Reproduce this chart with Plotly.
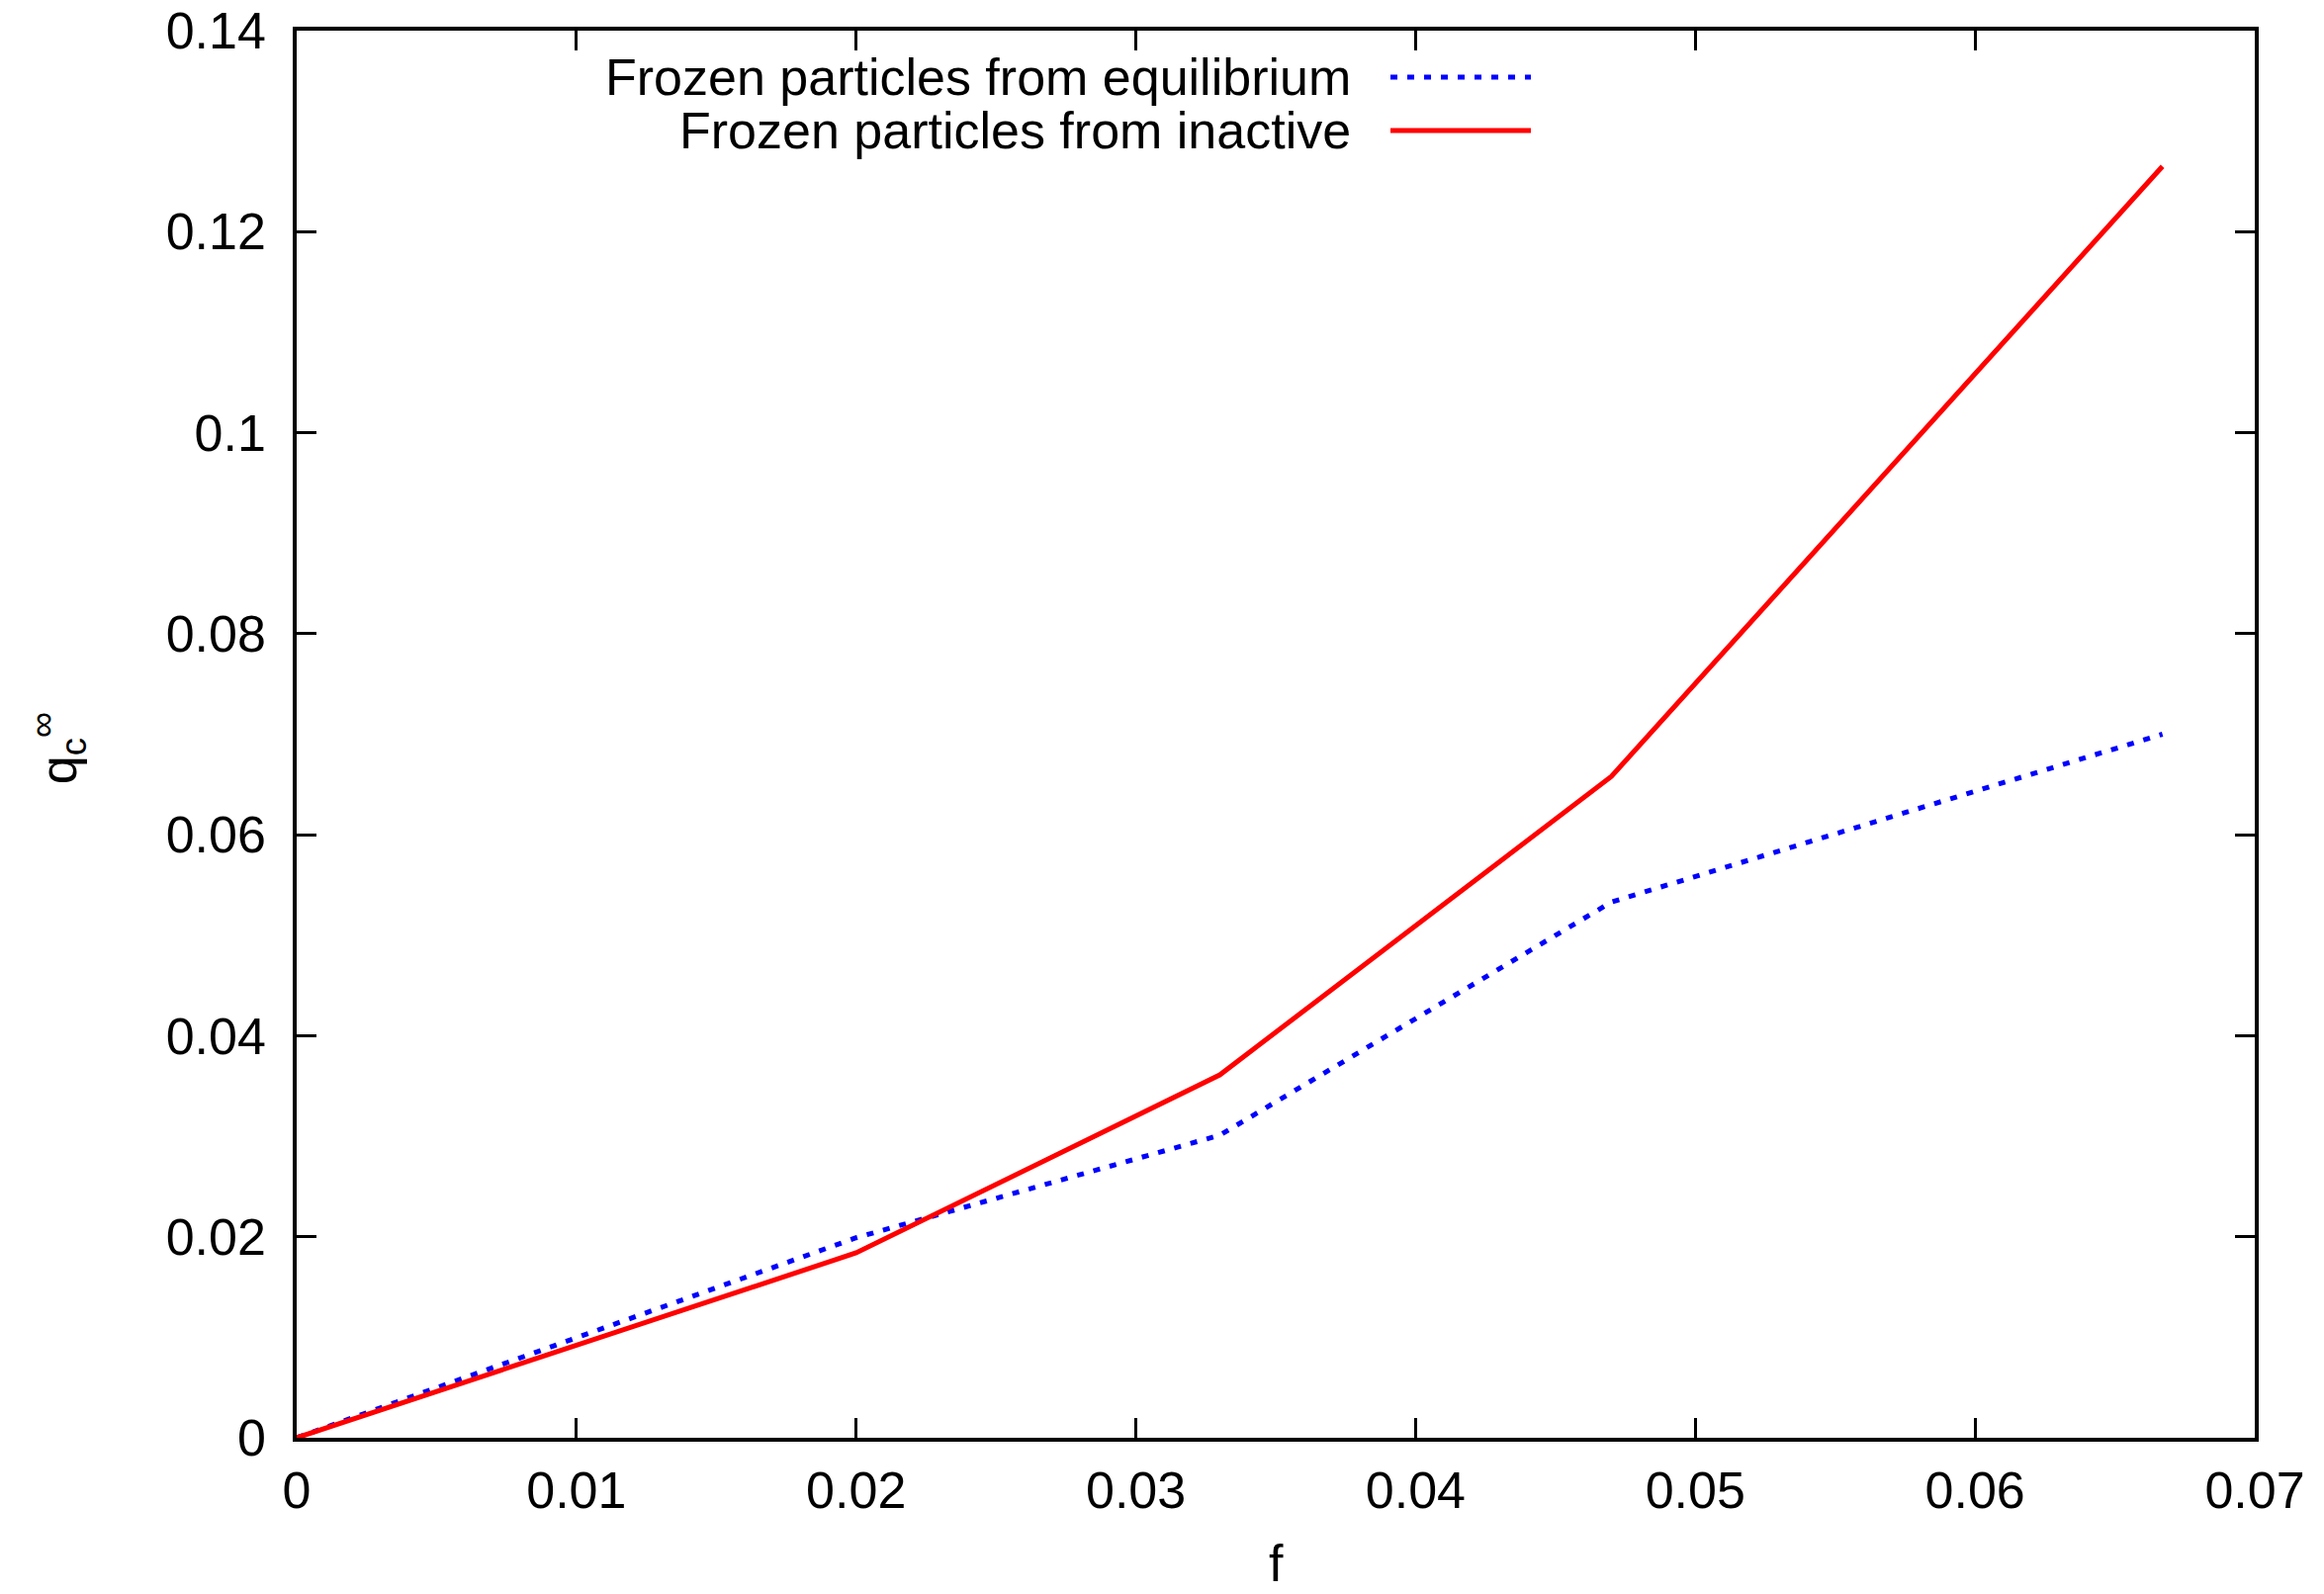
import plotly.graph_objects as go

f_values = [0.0, 0.02, 0.033, 0.047, 0.0667]
q_equilibrium = [0.0, 0.0199, 0.0301, 0.0533, 0.0700]
q_inactive = [0.0, 0.0184, 0.0361, 0.0658, 0.1265]

series_names = ["Frozen particles from equilibrium", "Frozen particles from inactive"]
x_ticks = [0, 0.01, 0.02, 0.03, 0.04, 0.05, 0.06, 0.07]
y_ticks = [0, 0.02, 0.04, 0.06, 0.08, 0.1, 0.12, 0.14]

FONT = "Liberation Sans, Arial, Helvetica, sans-serif"

fig = go.Figure()
fig.add_trace(go.Scatter(x=f_values, y=q_equilibrium, mode="lines",
                         line=dict(color="#0000ff", width=5, dash="7px,10px"),
                         name=series_names[0], showlegend=False))
fig.add_trace(go.Scatter(x=f_values, y=q_inactive, mode="lines",
                         line=dict(color="#ff0000", width=5),
                         name=series_names[1], showlegend=False))

axis_common = dict(showline=True, linecolor="black", linewidth=3.5, mirror="ticks",
                   ticks="inside", ticklen=20, tickwidth=3, tickcolor="black",
                   showgrid=False, zeroline=False, automargin=False,
                   tickfont=dict(family=FONT, size=52, color="black"))

fig.update_xaxes(range=[0, 0.07], tickvals=x_ticks, ticktext=[f"{v:g}" for v in x_ticks],
                 ticklabelstandoff=5, **axis_common)
fig.update_yaxes(range=[0, 0.14], tickvals=y_ticks, ticktext=[f"{v:g}" for v in y_ticks],
                 ticklabelstandoff=17, **axis_common)

annotations = [
    dict(text="f", xref="paper", yref="paper", x=0.5, y=-0.089, xanchor="center", yanchor="middle",
         showarrow=False, font=dict(family=FONT, size=52, color="black")),
    dict(text="q<sub>c</sub><sup>∞</sup>", xref="paper", yref="paper", x=-0.122, y=0.49,
         xanchor="center", yanchor="middle", textangle=-90,
         showarrow=False, font=dict(family=FONT, size=52, color="black")),
]
legend_rows = [0.967, 0.929]
legend_styles = [dict(color="#0000ff", width=5, dash="7px,10px"), dict(color="#ff0000", width=5)]
shapes = []
for name, yrow, style in zip(series_names, legend_rows, legend_styles):
    annotations.append(dict(text=name, xref="paper", yref="paper", x=0.5394, y=yrow,
                            xanchor="right", yanchor="middle", showarrow=False,
                            font=dict(family=FONT, size=52, color="black")))
    shapes.append(dict(type="line", xref="paper", yref="paper", x0=0.5586, x1=0.6303,
                       y0=yrow, y1=yrow, line=style))

fig.update_layout(width=2350, height=1612, paper_bgcolor="white", plot_bgcolor="white",
                  margin=dict(l=300, r=70, t=31, b=158),
                  annotations=annotations, shapes=shapes, showlegend=False)

fig.write_html("out.html")
